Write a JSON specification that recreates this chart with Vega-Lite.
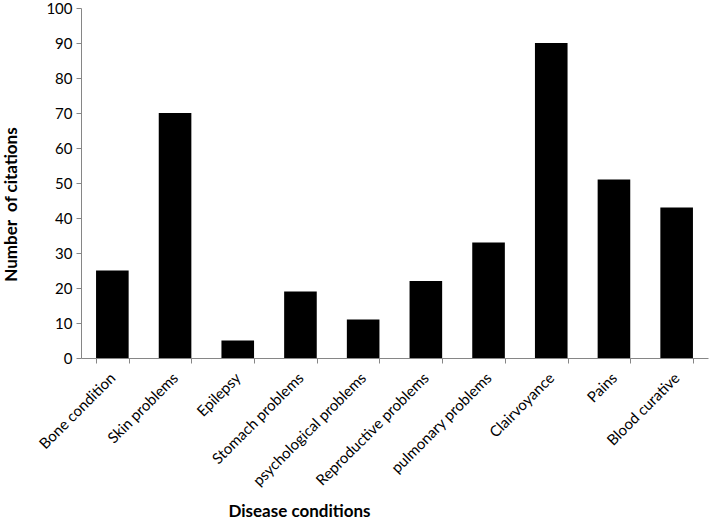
{
  "$schema": "https://vega.github.io/schema/vega-lite/v6.json",
  "autosize": "none",
  "width": 627,
  "height": 350,
  "padding": {"left": 81, "top": 8, "right": 1, "bottom": 162},
  "background": "white",
  "config": {
    "view": {"stroke": null},
    "font": "Lato",
    "axis": {
      "domainColor": "#868686",
      "tickColor": "#868686",
      "labelColor": "black",
      "titleColor": "black",
      "labelFont": "Lato",
      "titleFont": "Lato",
      "labelFontSize": 15,
      "titleFontSize": 17,
      "titleFontWeight": "bold",
      "grid": false
    }
  },
  "data": {
    "values": [
      {"condition": "Bone condition", "citations": 25},
      {"condition": "Skin problems", "citations": 70},
      {"condition": "Epilepsy", "citations": 5},
      {"condition": "Stomach problems", "citations": 19},
      {"condition": "psychological problems", "citations": 11},
      {"condition": "Reproductive problems", "citations": 22},
      {"condition": "pulmonary problems", "citations": 33},
      {"condition": "Clairvoyance", "citations": 90},
      {"condition": "Pains", "citations": 51},
      {"condition": "Blood curative", "citations": 43}
    ]
  },
  "mark": {"type": "bar", "color": "black"},
  "encoding": {
    "x": {
      "field": "condition",
      "type": "nominal",
      "sort": null,
      "scale": {"paddingInner": 0.48, "paddingOuter": 0.24},
      "axis": {
        "title": "Disease conditions",
        "labelAngle": -45,
        "labelFontSize": 15,
        "labelAlign": "right",
        "labelBaseline": "middle",
        "labelPadding": 12,
        "tickBand": "extent",
        "tickSize": 5,
        "titleX": 218,
        "titleY": 145,
        "titleAnchor": "middle"
      }
    },
    "y": {
      "field": "citations",
      "type": "quantitative",
      "scale": {"domain": [0, 100]},
      "axis": {
        "title": "Number\u00a0 of citations",
        "values": [0, 10, 20, 30, 40, 50, 60, 70, 80, 90, 100],
        "tickSize": 5,
        "labelPadding": 4,
        "titleX": -61,
        "titleY": 196,
        "titleAnchor": "middle"
      }
    }
  }
}
